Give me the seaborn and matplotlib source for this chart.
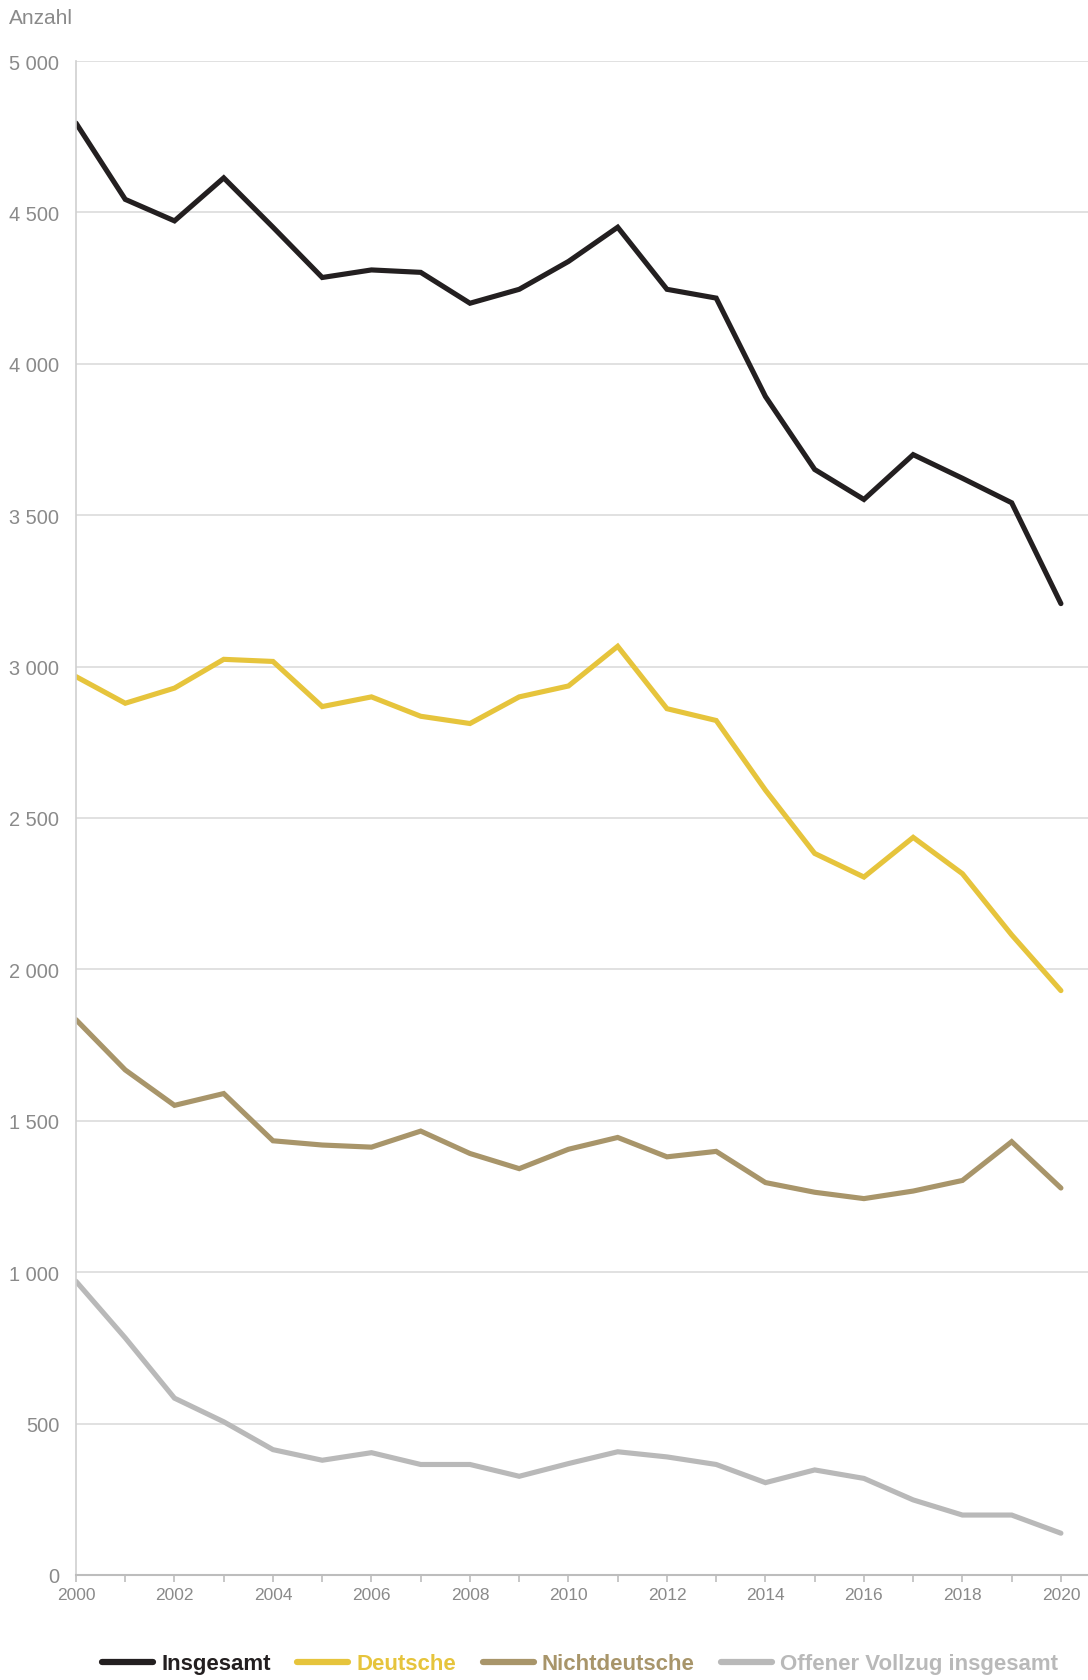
import matplotlib
matplotlib.use("Agg")
import matplotlib.pyplot as plt
import seaborn as sns
import pandas as pd
import numpy as np
from matplotlib.ticker import FuncFormatter, MultipleLocator

years = list(range(2000, 2021))
insgesamt = [4795, 4543, 4472, 4614, 4451, 4285, 4310, 4302, 4200, 4246, 4338,
             4451, 4246, 4217, 3892, 3651, 3552, 3700, 3622, 3541, 3208]
deutsche = [2967, 2879, 2929, 3024, 3017, 2868, 2900, 2836, 2812, 2900, 2936,
            3067, 2861, 2822, 2592, 2383, 2305, 2436, 2316, 2114, 1930]
nichtdeutsche = [1834, 1668, 1551, 1590, 1434, 1420, 1413, 1466, 1392, 1342, 1406,
                 1445, 1381, 1399, 1296, 1264, 1243, 1268, 1303, 1431, 1278]
offener = [970, 783, 584, 506, 414, 379, 404, 365, 365, 326, 368,
           407, 390, 365, 305, 347, 319, 248, 198, 198, 138]
series_names = ["Insgesamt", "Deutsche", "Nichtdeutsche", "Offener Vollzug insgesamt"]
colors = ["#231f20", "#e6c43c", "#a8956a", "#b9b9b9"]
ytick_values = [0, 500, 1000, 1500, 2000, 2500, 3000, 3500, 4000, 4500, 5000]
xtick_values = list(range(2000, 2021, 2))

df = pd.concat([
    pd.DataFrame({"Jahr": years, "Anzahl": vals, "Serie": name})
    for name, vals in zip(series_names, [insgesamt, deutsche, nichtdeutsche, offener])
])

sns.set_theme(style="white")
plt.rcParams["font.family"] = ["Liberation Sans", "DejaVu Sans"]

fig = plt.figure(figsize=(10.88, 16.81), dpi=100)
ax = fig.add_axes([76 / 1088, 1 - 1576 / 1681, 1 - 76 / 1088, (1576 - 62) / 1681])

sns.lineplot(data=df, x="Jahr", y="Anzahl", hue="Serie", hue_order=series_names,
             palette=colors, linewidth=3.7, ax=ax, legend=False,
             solid_joinstyle="miter", solid_capstyle="round")

ax.set_xlim(2000, 2020.55)
ax.set_ylim(0, 5000)
ax.set_yticks(ytick_values)
ax.yaxis.set_major_formatter(FuncFormatter(lambda v, p: f"{int(v):,}".replace(",", " ")))
ax.set_xticks(xtick_values)
ax.xaxis.set_minor_locator(MultipleLocator(1))
ax.grid(axis="y", color="#d9d9d9", linewidth=1.1)
ax.grid(axis="x", visible=False)
ax.set_axisbelow(True)
for s in ["top", "right"]:
    ax.spines[s].set_visible(False)
ax.spines["left"].set_color("#cfcfcf")
ax.spines["left"].set_linewidth(1.2)
ax.spines["bottom"].set_color("#bdbdbd")
ax.spines["bottom"].set_linewidth(1.5)
ax.tick_params(axis="y", length=0, pad=12, labelsize=14.4, labelcolor="#8a8a8a")
ax.tick_params(axis="x", which="both", direction="out", length=5, width=1.2,
               color="#bdbdbd", bottom=True, pad=4, labelsize=12.5, labelcolor="#8a8a8a")
ax.set_xlabel("")
ax.set_ylabel("")

fig.text(9 / 1088, 1 - 19 / 1681, "Anzahl", fontsize=15, color="#8a8a8a",
         ha="left", va="center")

handles = [plt.Line2D([], [], color=c, linewidth=4.5, solid_capstyle="round") for c in colors]
leg = fig.legend(handles, series_names, loc="center", ncol=4, frameon=False,
                 bbox_to_anchor=(580 / 1088, 1 - 1665 / 1681),
                 prop={"family": ["Liberation Sans"], "weight": "bold", "size": 16},
                 handlelength=2.3, handletextpad=0.35, columnspacing=1.2)
for t, c in zip(leg.get_texts(), colors):
    t.set_color(c)

fig.savefig("out.png", dpi=100)
